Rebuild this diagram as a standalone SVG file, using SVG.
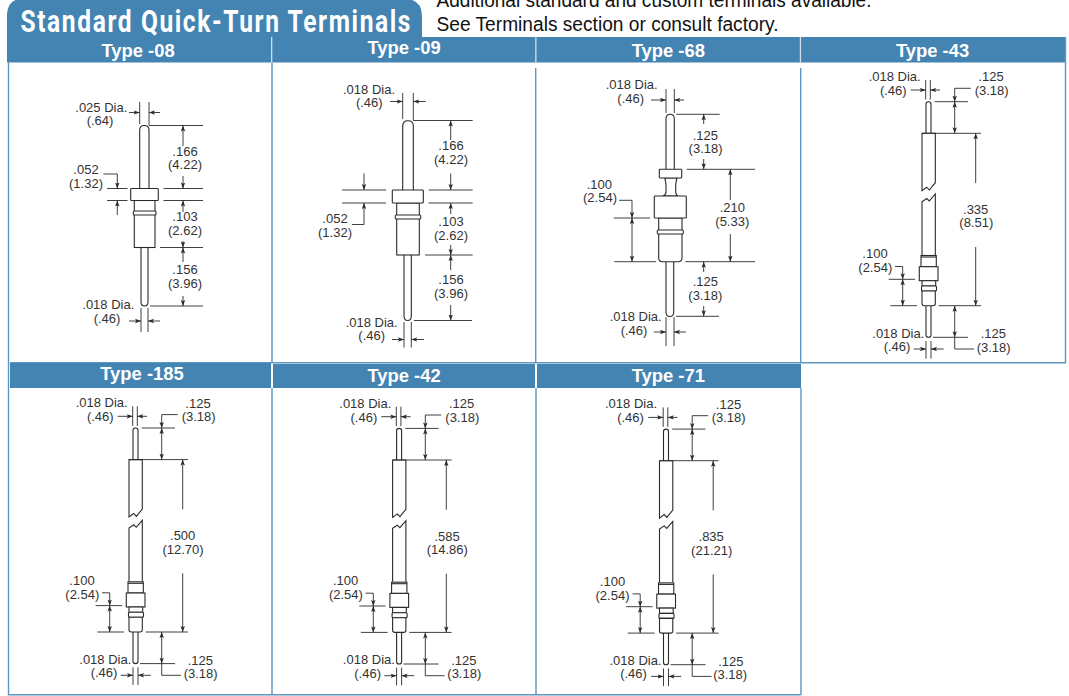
<svg xmlns="http://www.w3.org/2000/svg" xmlns:xlink="http://www.w3.org/1999/xlink" width="1069" height="696" viewBox="0 0 1069 696">
<style>
.band{fill:#4484b2}
.border{stroke:#5b97c0;stroke-width:1.4;fill:none}
.head{font:bold 18.4px "Liberation Sans",Arial,sans-serif;fill:#fff;text-anchor:middle}
.d{font:13px "Liberation Sans",Arial,sans-serif;fill:#333;text-anchor:middle}
.p{fill:#fff;stroke:#2a2a2a;stroke-width:1.1}
.o{fill:none;stroke:#2a2a2a;stroke-width:1.1}
.x{fill:none;stroke:#2a2a2a;stroke-width:.9}
.a{fill:none;stroke:#2a2a2a;stroke-width:.9;marker-end:url(#ah)}
.b{fill:none;stroke:#2a2a2a;stroke-width:.9;marker-start:url(#ahs);marker-end:url(#ah)}
.note{font:20px "Liberation Sans",Arial,sans-serif;fill:#111}
</style>
<defs>
<marker id="ah" markerUnits="userSpaceOnUse" markerWidth="7" markerHeight="6" refX="6" refY="3" orient="auto"><path d="M0,.8 L6,3 L0,5.2 L1.3,3z" fill="#2a2a2a"/></marker>
<marker id="ahs" markerUnits="userSpaceOnUse" markerWidth="7" markerHeight="6" refX="0" refY="3" orient="auto"><path d="M6,.8 L0,3 L6,5.2 L4.7,3z" fill="#2a2a2a"/></marker>
<g id="long-pin">
<path class="p" d="M926,133.3V104Q926,101.7 928.5,101.7Q931,101.7 931,104V133.3"/>
<path class="o" d="M922,133.3H935.3V182.7L929.3,190L926.7,187.2L922,190.7Z" fill="#fff"/>
<path class="o" d="M922,255V201.7L926.7,198.5L929.3,201L935.3,194V255"/>
<path class="p" d="M926,305.7V335Q926,337.3 928.5,337.3Q931,337.3 931,335V305.7"/>
<rect class="p" x="921" y="255.5" width="15.3" height="11.2"/>
<path class="o" d="M921,257H936.3" stroke-width="2"/>
<rect class="p" x="919.3" y="266.7" width="18.7" height="14"/>
<rect class="p" x="922" y="280.7" width="13.7" height="5.3"/>
<rect class="p" x="921.5" y="286" width="15" height="5" rx="1"/>
<path class="p" d="M922,291H935.3V303.5Q935.3,305.7 933,305.7H924.3Q922,305.7 922,303.5Z"/>
<path class="x" d="M925.7,80V99.5M930.3,80V99.5M926,341V358.7M931,341V358.7"/>
<path class="a" d="M910.7,90H925.7"/><path class="a" d="M940,90H930.3"/>
<path class="x" d="M934.7,101.7H968M922,133.3H981M938.7,305.7H981M890.3,305.7H917M888.7,279.3H915M933,337.3H968"/>
<path class="a" d="M970.7,88.3H954.7V101.7"/>
<path class="b" d="M954.7,101.7V133.3"/>
<path class="a" d="M975.7,183V133.3"/><path class="a" d="M975.7,247V305.7"/>
<path class="a" d="M895,266.5H902.7V279.3"/>
<path class="b" d="M902.7,279.3V305.7"/>
<path class="b" d="M954.7,305.7V337.3"/>
<path class="x" d="M954.7,337.3V349H974"/>
<path class="a" d="M913.7,349H926"/><path class="a" d="M943.7,349H931"/>
</g>
</defs>
<rect width="1069" height="696" fill="#fff"/>
<g id="banner">
<path class="band" d="M7,37V14Q8,0 20,-1H408Q422,1 422,16V37Z"/>
<rect class="band" x="7" y="37" width="1059" height="25.5"/>
<rect x="271" y="37" width="1.3" height="25.5" fill="#cfe0ec"/>
<rect x="535.2" y="37" width="1.3" height="25.5" fill="#cfe0ec"/>
<rect x="799.8" y="37" width="1.3" height="25.5" fill="#cfe0ec"/>
<text transform="translate(20.5,31.7) scale(.78,1)" font-family="Roboto,'Liberation Sans',sans-serif" font-size="31.5" font-weight="700" fill="#fff" textLength="500" lengthAdjust="spacing">Standard Quick-Turn Terminals</text>
<text class="note" x="436.5" y="7" textLength="435" lengthAdjust="spacingAndGlyphs">Additional standard and custom terminals available.</text>
<text class="note" x="436.5" y="30.5" textLength="342" lengthAdjust="spacingAndGlyphs">See Terminals section or consult factory.</text>
</g>
<g id="frames">
<path class="border" d="M8.5,62V694.7H801M272,63V362.5M272,388V694.7M535.7,68V362.5M536,388V694.7M800.7,68V362.5M801,388V694.7M1065.5,37V362.7H800.7M10,362.8H800.7"/>
<rect class="band" x="10" y="363" width="261" height="25"/>
<rect class="band" x="273" y="364" width="262" height="24"/>
<rect class="band" x="537" y="364" width="264" height="24"/>
</g>
<g id="connectors">
<!-- type -08 -->
<path class="x" d="M139.7,102V124M149,102V125.5H203M163.5,188.5H203M107,188.5H127.5M163.5,200.5H203M107,200.5H127.5M160,247.5H203M150,306H203M141,308V332M148,308V332"/>
<path class="a" d="M129,112.5H139.7"/><path class="a" d="M160,112.5H149"/>
<path class="a" d="M183,146V125.5"/><path class="a" d="M183,176V188.5"/>
<path class="a" d="M103.5,174H117.3V188.5"/><path class="a" d="M117.3,215V200.5"/>
<path class="a" d="M183,212V200.5"/><path class="a" d="M183,241V247.5"/><path class="a" d="M183,262V247.5"/>
<path class="a" d="M183,296V306"/>
<path class="a" d="M129,321H141"/><path class="a" d="M160,321H148"/>
<!-- type -09 -->
<path class="x" d="M402.7,93V119M413.3,93V120.5H472.7M428.7,190H472.7M342,190H386M428.7,203H472.7M342,203H386M425,255H472.7M414,320.5H472M404,322V347.5M411.3,322V347.5"/>
<path class="a" d="M390,101.5H402.7"/><path class="a" d="M425.7,101.5H413.3"/>
<path class="a" d="M450.7,140V120.5"/><path class="a" d="M450.7,173.5V190"/>
<path class="a" d="M364,173.5V190"/><path class="a" d="M352,224.5H364V203"/>
<path class="a" d="M450.7,214V203"/><path class="a" d="M450.7,245V255"/><path class="a" d="M450.7,270V255"/>
<path class="a" d="M450.7,305V320.5"/>
<path class="a" d="M392,339.5H404"/><path class="a" d="M424,339.5H411.3"/>
<!-- type -68 -->
<path class="x" d="M666,89V113M674.3,89V113M676.3,114.3H719.7M686.7,169.3H755M685.3,261.7H755M614.3,261.7H656M613.7,218H650M676,316.3H719M666,317V346M674,317V346"/>
<path class="a" d="M651,100H666"/><path class="a" d="M684,100H674.3"/>
<path class="a" d="M703.7,124V114.3"/><path class="a" d="M703.7,159V169.3"/>
<path class="a" d="M730.3,200V169.3"/><path class="a" d="M730.3,234V261.7"/>
<path class="a" d="M619,200.3H632V218"/><path class="b" d="M632,218V261.7"/>
<path class="a" d="M703.7,272V261.7"/><path class="a" d="M703.7,306V316.3"/>
<path class="a" d="M654,332H666"/><path class="a" d="M686,332H674"/>
</g>
<g id="type-08">
<text class="head" x="138" y="57">Type -08</text>
<path class="p" d="M139.7,188.5V130Q139.7,125.5 144.3,125.5Q149,125.5 149,130V188.5"/>
<path class="p" d="M141,247.5V302Q141,306 144.5,306Q148,306 148,302V247.5"/>
<rect class="p" x="134.3" y="200.5" width="20.7" height="47"/>
<rect class="p" x="133.3" y="211" width="22.7" height="4" rx="1"/>
<rect class="p" x="130.7" y="188.5" width="27.6" height="12" rx=".8"/>
<text class="d" x="101.3" y="112">.025 Dia.</text><text class="d" x="100" y="125">(.64)</text>
<text class="d" x="86" y="173.5">.052</text><text class="d" x="86" y="187.7">(1.32)</text>
<text class="d" x="185" y="155.5">.166</text><text class="d" x="185" y="169">(4.22)</text>
<text class="d" x="185" y="221">.103</text><text class="d" x="185" y="235">(2.62)</text>
<text class="d" x="185" y="274">.156</text><text class="d" x="185" y="288">(3.96)</text>
<text class="d" x="108.3" y="309">.018 Dia.</text><text class="d" x="107" y="323">(.46)</text>
</g>
<g id="type-09">
<text class="head" x="404" y="54">Type -09</text>
<path class="p" d="M402.7,190V126Q402.7,120.7 408,120.7Q413.3,120.7 413.3,126V190"/>
<path class="p" d="M404,255V316Q404,320.5 407.7,320.5Q411.3,320.5 411.3,316V255"/>
<rect class="p" x="396.7" y="203" width="22.6" height="52"/>
<rect class="p" x="395.3" y="215" width="25.4" height="4" rx="1"/>
<rect class="p" x="392.3" y="190" width="31" height="13" rx=".8"/>
<text class="d" x="369" y="94">.018 Dia.</text><text class="d" x="369.3" y="107">(.46)</text>
<text class="d" x="451" y="150">.166</text><text class="d" x="451" y="164">(4.22)</text>
<text class="d" x="335" y="223.3">.052</text><text class="d" x="335" y="237">(1.32)</text>
<text class="d" x="451" y="226">.103</text><text class="d" x="451" y="239.5">(2.62)</text>
<text class="d" x="451" y="284">.156</text><text class="d" x="451" y="297.5">(3.96)</text>
<text class="d" x="371.7" y="327">.018 Dia.</text><text class="d" x="371.7" y="340">(.46)</text>
</g>
<g id="type-68">
<text class="head" x="668.3" y="57">Type -68</text>
<path class="p" d="M666,169.3V119Q666,114.3 670.2,114.3Q674.3,114.3 674.3,119V169.3"/>
<path class="p" d="M666,262V312Q666,316.5 669.9,316.5Q673.7,316.5 673.7,312V262"/>
<path class="p" d="M664.7,178Q666,182 666,186V192Q666,195 663,196H678Q675.7,195 675.7,192V186Q675.7,182 677,178Z"/>
<rect class="p" x="659.3" y="169.3" width="22.4" height="8.7" rx=".8"/>
<path class="p" d="M658.7,218H682V258Q682,261.7 678,261.7H662.7Q658.7,261.7 658.7,258Z"/>
<rect class="p" x="657.3" y="230" width="26" height="4" rx="1"/>
<rect class="p" x="654.3" y="196" width="32" height="22" rx=".8"/>
<text class="d" x="631.7" y="89">.018 Dia.</text><text class="d" x="630.7" y="103">(.46)</text>
<text class="d" x="705.3" y="140.3">.125</text><text class="d" x="705.6" y="153.3">(3.18)</text>
<text class="d" x="732.3" y="212.3">.210</text><text class="d" x="732.3" y="226">(5.33)</text>
<text class="d" x="599.3" y="189.3">.100</text><text class="d" x="600" y="202.3">(2.54)</text>
<text class="d" x="705.3" y="286.3">.125</text><text class="d" x="705.3" y="300">(3.18)</text>
<text class="d" x="635.7" y="321">.018 Dia.</text><text class="d" x="634" y="335">(.46)</text>
</g>
<g id="type-43">
<text class="head" x="932.5" y="56.5">Type -43</text>
<use href="#long-pin"/>
<text class="d" x="894.7" y="81">.018 Dia.</text><text class="d" x="893.3" y="95">(.46)</text>
<text class="d" x="991" y="81.3">.125</text><text class="d" x="991.7" y="95">(3.18)</text>
<text class="d" x="975.7" y="214">.335</text><text class="d" x="976.3" y="227.3">(8.51)</text>
<text class="d" x="875" y="258.3">.100</text><text class="d" x="875.3" y="272.3">(2.54)</text>
<text class="d" x="898.3" y="337.7">.018 Dia.</text><text class="d" x="897" y="351">(.46)</text>
<text class="d" x="993.3" y="338.3">.125</text><text class="d" x="993.7" y="351.7">(3.18)</text>
</g>
<g id="type-185">
<text class="head" x="142" y="380">Type -185</text>
<g transform="translate(-793,326.3)">
<use href="#long-pin"/>
<text class="d" x="894.7" y="81">.018 Dia.</text><text class="d" x="893.3" y="95">(.46)</text>
<text class="d" x="991" y="81.3">.125</text><text class="d" x="991.7" y="95">(3.18)</text>
<text class="d" x="975.7" y="214">.500</text><text class="d" x="976" y="227.3">(12.70)</text>
<text class="d" x="875" y="258.3">.100</text><text class="d" x="875.3" y="272.3">(2.54)</text>
<text class="d" x="898.3" y="337.7">.018 Dia.</text><text class="d" x="897" y="351">(.46)</text>
<text class="d" x="993.3" y="338.3">.125</text><text class="d" x="993.7" y="351.7">(3.18)</text>
</g>
</g>
<g id="type-42">
<text class="head" x="404" y="381.6">Type -42</text>
<g transform="translate(-529.4,326.7)">
<use href="#long-pin"/>
<text class="d" x="894.7" y="81">.018 Dia.</text><text class="d" x="893.3" y="95">(.46)</text>
<text class="d" x="991" y="81.3">.125</text><text class="d" x="991.7" y="95">(3.18)</text>
<text class="d" x="976.5" y="214">.585</text><text class="d" x="976.7" y="227.3">(14.86)</text>
<text class="d" x="875" y="258.3">.100</text><text class="d" x="875.3" y="272.3">(2.54)</text>
<text class="d" x="898.3" y="337.7">.018 Dia.</text><text class="d" x="897" y="351">(.46)</text>
<text class="d" x="993.3" y="338.3">.125</text><text class="d" x="993.7" y="351.7">(3.18)</text>
</g>
</g>
<g id="type-71">
<text class="head" x="668.3" y="381.6">Type -71</text>
<g transform="translate(-262.5,327.4)">
<use href="#long-pin"/>
<text class="d" x="893.5" y="81">.018 Dia.</text><text class="d" x="893" y="95">(.46)</text>
<text class="d" x="991" y="81.3">.125</text><text class="d" x="991.2" y="95">(3.18)</text>
<text class="d" x="973.7" y="214">.835</text><text class="d" x="974.2" y="227.3">(21.21)</text>
<text class="d" x="875" y="258.3">.100</text><text class="d" x="875" y="272.3">(2.54)</text>
<text class="d" x="898" y="337.7">.018 Dia.</text><text class="d" x="896" y="351">(.46)</text>
<text class="d" x="993.3" y="338.3">.125</text><text class="d" x="992.7" y="351.7">(3.18)</text>
</g>
</g>
</svg>
